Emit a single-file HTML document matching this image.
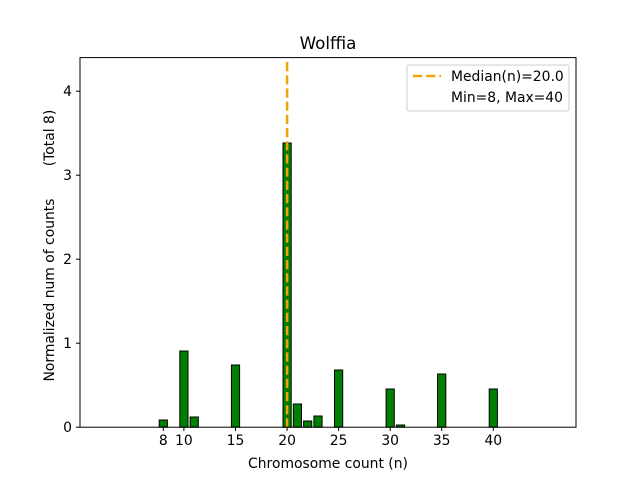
<!DOCTYPE html><html><head><style>body{margin:0;background:#fff}svg{display:block}text{font-family:"DejaVu Sans","Liberation Sans",sans-serif;fill:#000}</style></head><body>
<svg width="640" height="480" viewBox="0 0 640 480">
<g fill="#008000" stroke="#000" stroke-width="1">
<rect x="159.2" y="420" width="8.2" height="7.2"/>
<rect x="179.8" y="351" width="8.2" height="76.2"/>
<rect x="190.1" y="417" width="8.2" height="10.2"/>
<rect x="231.4" y="365" width="8.2" height="62.2"/>
<rect x="283" y="143" width="8.2" height="284.2"/>
<rect x="293.3" y="404" width="8.2" height="23.2"/>
<rect x="303.6" y="421" width="8.2" height="6.2"/>
<rect x="313.9" y="416" width="8.2" height="11.2"/>
<rect x="334.5" y="370" width="8.2" height="57.2"/>
<rect x="386.1" y="389" width="8.2" height="38.2"/>
<rect x="396.4" y="425" width="8.2" height="2.2"/>
<rect x="437.6" y="374" width="8.2" height="53.2"/>
<rect x="489.2" y="389" width="8.2" height="38.2"/>
</g>
<line x1="287.1" y1="62" x2="287.1" y2="427" stroke="#f0a30a" stroke-width="2.5" stroke-dasharray="9.2,4"/>
<rect x="80" y="57.6" width="496" height="369.6" fill="none" stroke="#000" stroke-width="1"/>
<g stroke="#000">
<line x1="163.3" y1="427" x2="163.3" y2="431"/><line x1="183.9" y1="427" x2="183.9" y2="431"/><line x1="235.5" y1="427" x2="235.5" y2="431"/><line x1="287.1" y1="427" x2="287.1" y2="431"/><line x1="338.6" y1="427" x2="338.6" y2="431"/><line x1="390.2" y1="427" x2="390.2" y2="431"/><line x1="441.7" y1="427" x2="441.7" y2="431"/><line x1="493.3" y1="427" x2="493.3" y2="431"/>
<line x1="76" y1="427.2" x2="80" y2="427.2"/><line x1="76" y1="343.2" x2="80" y2="343.2"/><line x1="76" y1="259.2" x2="80" y2="259.2"/><line x1="76" y1="175.2" x2="80" y2="175.2"/><line x1="76" y1="91.2" x2="80" y2="91.2"/>
</g>
<g font-size="13.9" text-anchor="middle">
<text x="163.3" y="445">8</text><text x="183.9" y="445">10</text><text x="235.5" y="445">15</text><text x="287.1" y="445">20</text><text x="338.6" y="445">25</text><text x="390.2" y="445">30</text><text x="441.7" y="445">35</text><text x="493.3" y="445">40</text>
</g>
<g font-size="13.9" text-anchor="end">
<text x="72" y="432">0</text><text x="72" y="348">1</text><text x="72" y="264">2</text><text x="72" y="180">3</text><text x="72" y="96">4</text>
</g>
<text x="328" y="468" font-size="13.9" text-anchor="middle">Chromosome count (n)</text>
<text transform="translate(54,290) rotate(-90)" font-size="13.9" text-anchor="middle">Normalized num of counts</text>
<text transform="translate(54,138) rotate(-90)" font-size="13.9" text-anchor="middle">(Total 8)</text>
<text x="328" y="49" font-size="16.7" text-anchor="middle">Wolffia</text>
<rect x="407" y="65" width="162" height="46" rx="2" fill="#fff" stroke="#ccc" stroke-width="1"/>
<line x1="413" y1="76" x2="441" y2="76" stroke="#f0a30a" stroke-width="2.5" stroke-dasharray="9.2,4"/>
<text x="451" y="81" font-size="13.9">Median(n)=20.0</text>
<text x="451" y="102" font-size="13.9">Min=8, Max=40</text>
</svg></body></html>
